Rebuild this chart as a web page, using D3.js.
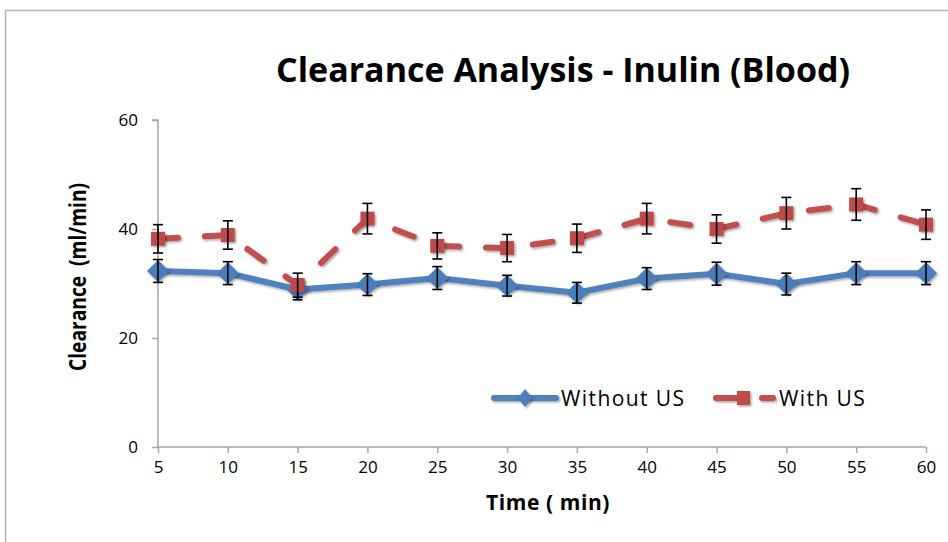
<!DOCTYPE html>
<html lang="en">
<head>
<meta charset="UTF-8">
<title>Clearance Analysis - Inulin (Blood)</title>
<script src="https://d3js.org/d3.v7.min.js"></script>
<style>
    body { margin: 0; background: #fff; }
    svg text { font-family: "Open Sans", sans-serif; }
</style>
</head>
<body>
<div id="chart"></div>
<script>
    // data
    var times = [5, 10, 15, 20, 25, 30, 35, 40, 45, 50, 55, 60]
    var withoutUS = [32.3, 31.9, 28.9, 29.8, 31.0, 29.6, 28.3, 30.9, 31.8, 29.9, 31.9, 31.9]
    var withoutErr = [2.1, 2.1, 1.9, 2.0, 2.1, 1.9, 1.9, 2.0, 2.1, 2.0, 2.1, 2.1]
    var withUS = [38.2, 38.9, 29.7, 41.9, 36.9, 36.5, 38.3, 41.9, 40.0, 42.9, 44.5, 40.8]
    var withErr = [2.6, 2.6, 2.2, 2.8, 2.4, 2.5, 2.6, 2.8, 2.6, 2.9, 2.9, 2.7]
    var yTicks = [0, 20, 40, 60]

    var width = 948, height = 542
    var margin = {top: 120, right: 22, bottom: 95, left: 158}

    var svg = d3.select("#chart").append("svg")
        .attr("width", width)
        .attr("height", height)

    // outer frame of the chart (cut off at right and bottom)
    svg.append("path")
        .attr("d", "M5.5,542 L5.5,10.5 L948,10.5")
        .attr("fill", "none")
        .attr("stroke", "#b5b5b5")
        .attr("stroke-width", 1.5)

    // soft drop shadow like the office chart
    var f = svg.append("defs").append("filter").attr("id", "shadow")
        .attr("filterUnits", "userSpaceOnUse")
        .attr("x", -width).attr("y", -height).attr("width", width * 3).attr("height", height * 3)
    f.append("feDropShadow").attr("dx", 1.5).attr("dy", 1.5)
        .attr("stdDeviation", 1.2).attr("flood-color", "#000").attr("flood-opacity", 0.35)

    var x = d3.scaleLinear().domain([5, 60]).range([margin.left, width - margin.right])
    var y = d3.scaleLinear().domain([0, 60]).range([height - margin.bottom, margin.top])

    // axes
    var xAxis = svg.append("g")
        .attr("transform", "translate(0," + y(0) + ")")
        .call(d3.axisBottom(x).tickValues(times).tickSize(6).tickPadding(8))
    var yAxis = svg.append("g")
        .attr("transform", "translate(" + x(5) + ",0)")
        .call(d3.axisLeft(y).tickValues(yTicks).tickSize(6).tickPadding(14))
    ;[xAxis, yAxis].forEach(function(a) {
        a.select(".domain").attr("stroke", "#a6a6a6").attr("stroke-width", 1.5)
        a.selectAll(".tick line").attr("stroke", "#a6a6a6").attr("stroke-width", 1.5)
        a.selectAll("text").attr("fill", "#000").style("font-size", "17px")
    })
    yAxis.select(".domain").attr("d", "M-6," + y(60) + "H0V" + y(0))
    xAxis.select(".domain").attr("d", "M" + x(5) + ",0H" + x(60))

    function drawErrors(vals, errs) {
        var g = svg.append("g").attr("stroke", "#000").attr("stroke-width", 1.6)
        times.forEach(function(t, i) {
            var cx = x(t), top = y(vals[i] + errs[i]), bot = y(vals[i] - errs[i])
            g.append("line").attr("x1", cx).attr("x2", cx).attr("y1", top).attr("y2", bot)
            g.append("line").attr("x1", cx - 5).attr("x2", cx + 5).attr("y1", top).attr("y2", top)
            g.append("line").attr("x1", cx - 5).attr("x2", cx + 5).attr("y1", bot).attr("y2", bot)
        })
    }

    var line = d3.line().x(function(d) { return x(d[0]) }).y(function(d) { return y(d[1]) })

    // Without US series
    svg.append("path")
        .datum(d3.zip(times, withoutUS))
        .attr("d", line)
        .attr("fill", "none")
        .attr("stroke", "#4f81bd")
        .attr("stroke-width", 6)
        .attr("stroke-linejoin", "round")
        .attr("filter", "url(#shadow)")
    svg.append("g").selectAll("path")
        .data(d3.zip(times, withoutUS))
        .join("path")
        .attr("d", "M0,-11L11,0L0,11L-11,0Z")
        .attr("transform", function(d) { return "translate(" + x(d[0]) + "," + y(d[1]) + ")" })
        .attr("fill", "#4a7ebb")
        .attr("filter", "url(#shadow)")
    drawErrors(withoutUS, withoutErr)

    // With US series
    svg.append("path")
        .datum(d3.zip(times, withUS))
        .attr("d", line)
        .attr("fill", "none")
        .attr("stroke", "#c0504d")
        .attr("stroke-width", 6)
        .attr("stroke-linecap", "round")
        .attr("stroke-dasharray", "20,27")
        .attr("filter", "url(#shadow)")
    svg.append("g").selectAll("rect")
        .data(d3.zip(times, withUS))
        .join("rect")
        .attr("x", function(d) { return x(d[0]) - 7 })
        .attr("y", function(d) { return y(d[1]) - 7 })
        .attr("width", 14)
        .attr("height", 14)
        .attr("fill", "#be4b48")
        .attr("filter", "url(#shadow)")
    drawErrors(withUS, withErr)

    // title and axis titles
    svg.append("text")
        .attr("x", 563).attr("y", 82)
        .attr("text-anchor", "middle")
        .style("font-size", "34px").style("font-weight", "bold")
        .text("Clearance Analysis - Inulin (Blood)")
    svg.append("text")
        .attr("x", 548).attr("y", 510)
        .attr("text-anchor", "middle")
        .style("font-size", "21px").style("font-weight", "bold")
        .style("letter-spacing", "0.6px")
        .text("Time ( min)")
    svg.append("text")
        .attr("transform", "translate(86,277) rotate(-90) scale(0.8,1)")
        .attr("text-anchor", "middle")
        .style("font-size", "24px").style("font-weight", "bold")
        .attr("xml:space", "preserve")
        .text("Clearance  (ml/min)")

    // legend
    var leg = svg.append("g").attr("transform", "translate(0,398)")
    leg.append("line").attr("x1", 494).attr("x2", 556)
        .attr("stroke", "#4f81bd").attr("stroke-width", 6).attr("stroke-linecap", "round")
        .attr("filter", "url(#shadow)")
    leg.append("path").attr("d", "M0,-9L7,0L0,9L-7,0Z")
        .attr("transform", "translate(525,0)").attr("fill", "#4a7ebb").attr("filter", "url(#shadow)")
    leg.append("text").attr("x", 561).attr("y", 8).style("font-size", "21px")
        .style("letter-spacing", "1.4px").text("Without US")
    leg.append("line").attr("x1", 716).attr("x2", 740)
        .attr("stroke", "#c0504d").attr("stroke-width", 6).attr("stroke-linecap", "round")
        .attr("filter", "url(#shadow)")
    leg.append("line").attr("x1", 762).attr("x2", 773)
        .attr("stroke", "#c0504d").attr("stroke-width", 6).attr("stroke-linecap", "round")
        .attr("filter", "url(#shadow)")
    leg.append("rect").attr("x", 737).attr("y", -7).attr("width", 13).attr("height", 14)
        .attr("fill", "#be4b48").attr("filter", "url(#shadow)")
    leg.append("text").attr("x", 779).attr("y", 8).style("font-size", "21px")
        .style("letter-spacing", "1.4px").text("With US")
</script>
</body>
</html>
